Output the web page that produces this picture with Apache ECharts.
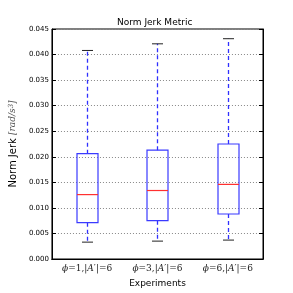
<!DOCTYPE html>
<html><head><meta charset="utf-8">
<script src="https://cdn.jsdelivr.net/npm/echarts@6/dist/echarts.min.js"></script>
<style>html,body{margin:0;padding:0;background:#fff}#c{width:293px;height:293px}</style>
</head><body><div id="c"></div>
<script>
var categories = ['1', '3', '6'];
var mins = [0.0033, 0.0035, 0.0037];
var q1s = [0.0071, 0.0075, 0.0088];
var medians = [0.0126, 0.0134, 0.0146];
var q3s = [0.0206, 0.0213, 0.0225];
var maxs = [0.0408, 0.0421, 0.0431];
var yTicks = [0, 0.045, 0.005];

var chart = echarts.init(document.getElementById('c'));
var data = categories.map(function (c, i) { return [i, mins[i], q1s[i], medians[i], q3s[i], maxs[i]]; });

function renderItem(params, api) {
  var i = api.value(0);
  var pMin = api.coord([i, api.value(1)]);
  var pQ1 = api.coord([i, api.value(2)]);
  var pMed = api.coord([i, api.value(3)]);
  var pQ3 = api.coord([i, api.value(4)]);
  var pMax = api.coord([i, api.value(5)]);
  var band = api.size([1, 0])[0];
  var bw = Math.round(band * 0.305);
  var cw = Math.round(band * 0.15);
  var x = Math.round(pMed[0]) + 0.5;
  var blue = '#3a3aff';
  var wStyle = { stroke: '#3030ff', lineWidth: 1.3, lineDash: [4, 3] };
  return {
    type: 'group',
    children: [
      { type: 'line', shape: { x1: x, y1: pQ3[1], x2: x, y2: pMax[1] }, style: wStyle },
      { type: 'line', shape: { x1: x, y1: pQ1[1], x2: x, y2: pMin[1] }, style: wStyle },
      { type: 'line', shape: { x1: x - cw / 2, y1: pMax[1], x2: x + cw / 2, y2: pMax[1] }, style: { stroke: '#222', lineWidth: 1 } },
      { type: 'line', shape: { x1: x - cw / 2, y1: pMin[1], x2: x + cw / 2, y2: pMin[1] }, style: { stroke: '#222', lineWidth: 1 } },
      { type: 'rect', shape: { x: x - bw / 2, y: pQ3[1], width: bw, height: pQ1[1] - pQ3[1] }, style: { fill: 'none', stroke: blue, lineWidth: 1.2 } },
      { type: 'line', shape: { x1: x - bw / 2, y1: pMed[1], x2: x + bw / 2, y2: pMed[1] }, style: { stroke: '#ff3030', lineWidth: 1.2 } }
    ]
  };
}

var tickRich = {
  m: { fontFamily: 'DejaVu Serif', fontStyle: 'italic', fontSize: 9, color: '#222' },
  n: { fontFamily: 'DejaVu Serif', fontSize: 9, color: '#222' }
};

chart.setOption({
  animation: false,
  title: {
    text: 'Norm Jerk Metric', left: 112, top: 13,
    textStyle: { fontFamily: 'DejaVu Sans', fontSize: 9, fontWeight: 'normal', color: '#000' }
  },
  grid: { left: 37, right: 30, top: 29, bottom: 29, show: true, borderColor: '#000', borderWidth: 1, backgroundColor: 'transparent' },
  xAxis: [{
    type: 'category', data: categories, boundaryGap: true,
    name: 'Experiments', nameLocation: 'middle', nameGap: 20,
    nameTextStyle: { fontFamily: 'DejaVu Sans', fontSize: 9, color: '#000' },
    axisLine: { lineStyle: { color: '#000' } },
    axisTick: { inside: true, alignWithLabel: true, length: 4, lineStyle: { color: '#000' } },
    axisLabel: {
      margin: 5, interval: 0,
      formatter: function (v) { return '{m|ϕ}{n|=' + v + ',|}{m|A}{n|′|=6}'; },
      rich: tickRich
    },
    splitLine: { show: false }
  }, {
    type: 'category', data: categories, position: 'top', boundaryGap: true,
    axisLine: { lineStyle: { color: '#000' } },
    axisTick: { inside: true, alignWithLabel: true, length: 4, lineStyle: { color: '#000' } },
    axisLabel: { show: false }, splitLine: { show: false }
  }],
  yAxis: [{
    type: 'value', min: yTicks[0], max: yTicks[1], interval: yTicks[2],
    name: '{a|Norm Jerk }{b|[rad/s}{c|3}{b|]}', nameLocation: 'middle', nameGap: 25, nameRotate: 90,
    nameTextStyle: {
      rich: {
        a: { fontFamily: 'DejaVu Sans', fontSize: 10, color: '#000' },
        b: { fontFamily: 'DejaVu Serif', fontStyle: 'italic', fontSize: 9, color: '#555' },
        c: { fontFamily: 'DejaVu Serif', fontStyle: 'italic', fontSize: 7, color: '#555', verticalAlign: 'top' }
      }
    },
    axisLine: { show: true, lineStyle: { color: '#000' } },
    axisTick: { show: true, inside: true, length: 4, lineStyle: { color: '#000' } },
    axisLabel: { margin: 3, fontFamily: 'DejaVu Sans', fontSize: 7, color: '#000', formatter: function (v) { return v.toFixed(3); } },
    splitLine: { show: true, lineStyle: { color: '#888', type: [1, 2], width: 1 } }
  }, {
    type: 'value', min: yTicks[0], max: yTicks[1], interval: yTicks[2], position: 'right',
    axisLine: { show: true, lineStyle: { color: '#000' } },
    axisTick: { show: true, inside: true, length: 4, lineStyle: { color: '#000' } },
    axisLabel: { show: false }, splitLine: { show: false }
  }],
  series: [{
    type: 'custom', renderItem: renderItem, data: data, xAxisIndex: 0, yAxisIndex: 0,
    encode: { x: 0, y: [1, 2, 3, 4, 5] }, z: 5
  }]
});
</script></body></html>
